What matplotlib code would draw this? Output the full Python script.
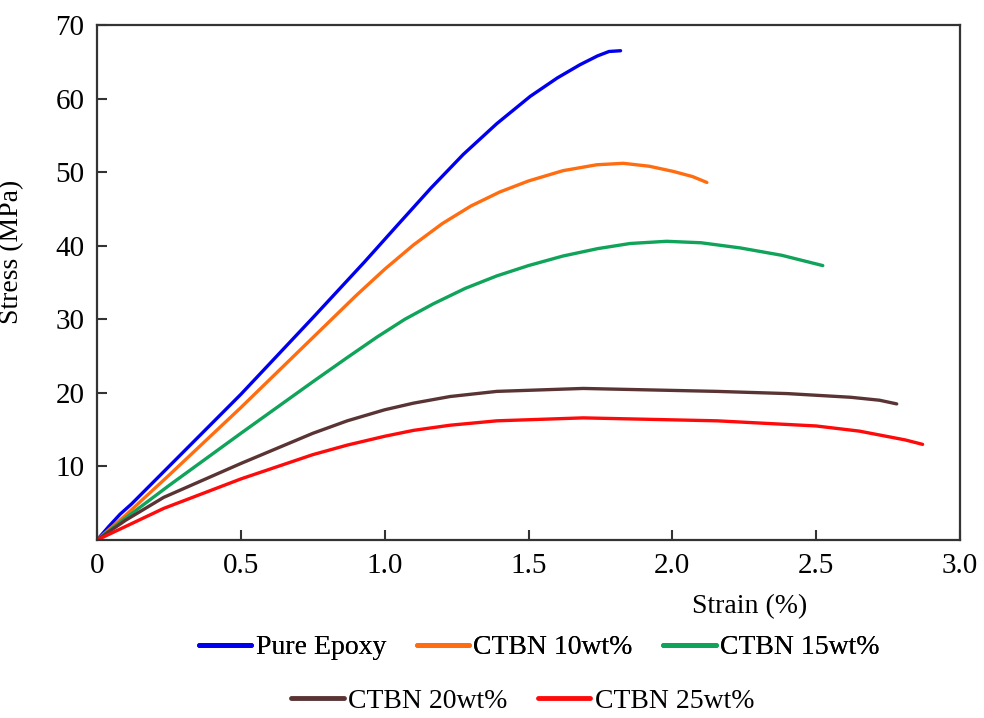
import matplotlib.pyplot as plt
from matplotlib.lines import Line2D

plt.rcParams['font.family'] = ['Liberation Serif', 'DejaVu Serif']

# Stress-strain curves (strain %, stress MPa)
epoxy_x = [0, 0.04, 0.08, 0.12, 0.25, 0.5, 0.75, 0.93, 1.04, 1.16, 1.273, 1.39,
           1.506, 1.6, 1.679, 1.74, 1.78, 1.82]
epoxy_y = [0, 1.8, 3.5, 4.9, 10.0, 19.8, 30.2, 37.8, 42.6, 47.8, 52.4, 56.6,
           60.3, 62.8, 64.6, 65.8, 66.4, 66.5]

ctbn10_x = [0, 0.1, 0.25, 0.5, 0.75, 0.9, 1.0, 1.1, 1.2, 1.3, 1.4, 1.5,
            1.62, 1.737, 1.83, 1.92, 2.003, 2.07, 2.12]
ctbn10_y = [0, 3.4, 8.8, 18.0, 27.5, 33.2, 36.8, 40.1, 43.0, 45.4, 47.3, 48.8,
            50.2, 51.0, 51.2, 50.8, 50.1, 49.4, 48.6]

ctbn15_x = [0, 0.1, 0.25, 0.5, 0.75, 0.87, 0.974, 1.07, 1.169, 1.28, 1.39, 1.5,
            1.62, 1.74, 1.853, 1.98, 2.1, 2.236, 2.38, 2.523]
ctbn15_y = [0, 3.0, 7.4, 14.5, 21.5, 24.8, 27.6, 30.0, 32.1, 34.2, 35.9, 37.3,
            38.6, 39.6, 40.3, 40.6, 40.4, 39.7, 38.7, 37.3]

ctbn20_x = [0, 0.1, 0.232, 0.5, 0.75, 0.87, 1.0, 1.1, 1.227, 1.39, 1.69, 2.155,
            2.4, 2.62, 2.72, 2.78]
ctbn20_y = [0, 2.7, 5.8, 10.4, 14.5, 16.2, 17.7, 18.6, 19.5, 20.2, 20.6, 20.2,
            19.9, 19.4, 19.0, 18.5]

ctbn25_x = [0, 0.232, 0.5, 0.75, 0.87, 1.0, 1.1, 1.227, 1.39, 1.69, 2.155, 2.5,
            2.65, 2.73, 2.81, 2.87]
ctbn25_y = [0, 4.3, 8.3, 11.6, 12.9, 14.1, 14.9, 15.6, 16.2, 16.6, 16.2, 15.5,
            14.8, 14.2, 13.6, 13.0]

labels = ['Pure Epoxy', 'CTBN 10wt%', 'CTBN 15wt%', 'CTBN 20wt%', 'CTBN 25wt%']
colors = ['#0000ee', '#ff6d10', '#10a35a', '#5a3434', '#ff0a0a']

xticks = [0, 0.5, 1.0, 1.5, 2.0, 2.5, 3.0]
xtick_labels = ['0', '0.5', '1.0', '1.5', '2.0', '2.5', '3.0']
yticks = [10, 20, 30, 40, 50, 60, 70]

fig = plt.figure(figsize=(9.84, 7.18), dpi=100)
ax = fig.add_axes([0.0986, 0.2479, 0.877, 0.7173])

series = [(epoxy_x, epoxy_y), (ctbn10_x, ctbn10_y), (ctbn15_x, ctbn15_y),
          (ctbn20_x, ctbn20_y), (ctbn25_x, ctbn25_y)]
for (xs, ys), c, lab in zip(series, colors, labels):
    ax.plot(xs, ys, color=c, lw=2.4, label=lab, solid_capstyle='round',
            solid_joinstyle='round')

ax.set_xlim(0, 3.0)
ax.set_ylim(0, 70)
ax.set_xticks(xticks)
ax.set_xticklabels(xtick_labels)
ax.set_yticks(yticks)
ax.tick_params(direction='in', length=7, width=1.5, labelsize=21, pad=9, color='#333333')
for s in ax.spines.values():
    s.set_linewidth(1.6)
    s.set_color('#333333')

ax.set_ylabel('Stress (MPa)', fontsize=20)
ax.yaxis.set_label_coords(-0.085, 0.56)
fig.text(0.762, 0.155, 'Strain (%)', fontsize=20, ha='center', va='center')

handles = [Line2D([0], [0], color=c, lw=3.5, solid_capstyle='round') for c in colors]
leg1 = fig.legend(handles[:3], labels[:3], loc='center', bbox_to_anchor=(0.548, 0.098),
                  ncol=3, frameon=False, fontsize=20, handlelength=1.9,
                  handletextpad=0.15, columnspacing=1.1)
fig.add_artist(leg1)
fig.legend(handles[3:], labels[3:], loc='center', bbox_to_anchor=(0.531, 0.023),
           ncol=2, frameon=False, fontsize=20, handlelength=1.9,
           handletextpad=0.15, columnspacing=1.1)

fig.savefig('out.png', dpi=100)
